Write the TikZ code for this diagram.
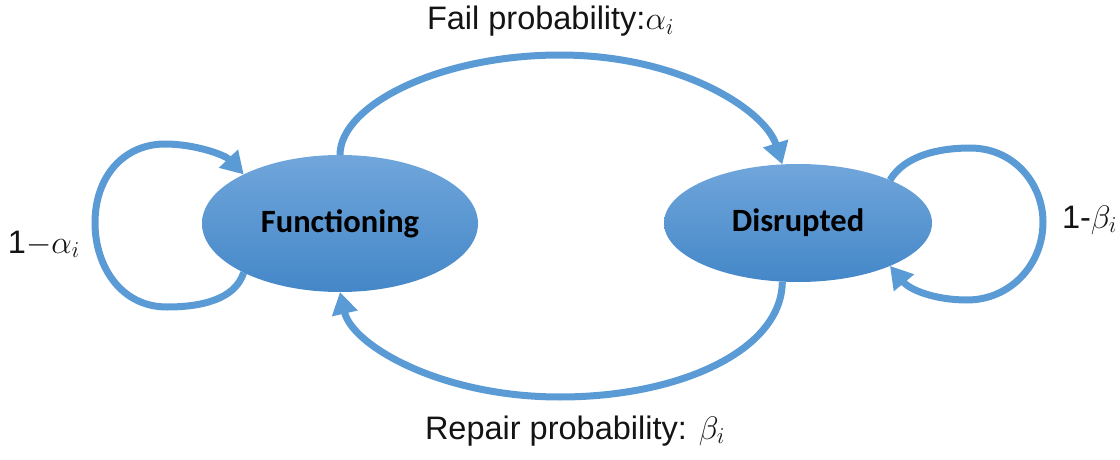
\RequirePackage{fix-cm}
\documentclass[tikz,border=0pt]{standalone}
\usepackage{fontspec}
\setmainfont{Liberation Sans}
\newfontfamily\nodefont{Carlito}
\usetikzlibrary{shapes.geometric,arrows.meta}
\definecolor{arrowblue}{RGB}{91,155,213}
\definecolor{elltop}{RGB}{112,166,219}
\definecolor{ellbot}{RGB}{68,135,200}
\definecolor{txt}{RGB}{20,20,20}
\tikzset{
  statenode/.style={ellipse, inner sep=0pt, outer sep=0pt, top color=elltop, bottom color=ellbot, draw=none,
    font=\nodefont\bfseries\fontsize{32.5}{38}\selectfont, text=black},
  conn/.style={draw=arrowblue, line width=7pt, -{Triangle[length=22pt,width=25pt]}},
  lbl/.style={inner sep=0pt, outer sep=0pt, anchor=base west, text=txt, font=\fontsize{32.5}{38}\selectfont}
}
\begin{document}
\begin{tikzpicture}[x=1pt,y=-1pt]
\useasboundingbox (0,0) rectangle (1120,460);
\node[statenode, minimum width=276pt, minimum height=137pt] (F) at (340,223.5) {Functioning};
\node[statenode, minimum width=268pt, minimum height=118pt] (D) at (798,223) {Disrupted};
% fail
\draw[conn] (F.north) .. controls (340,105) and (440,55) .. (560,55) .. controls (680,55) and (765,110) .. (D.105);
% repair
\draw[conn] (D.255) .. controls (782,350) and (680,397) .. (560,397) .. controls (440,397) and (352,345) .. (F.south);
% left loop
\draw[conn] (F.207) .. controls (235,300) and (200,307) .. (167,307) .. controls (120,307) and (95,265) .. (95,223) .. controls (95,175) and (125,144) .. (165,144) .. controls (195,144) and (225,155) .. (F.153);
% right loop
\draw[conn] (D.25) .. controls (905,155) and (940,148) .. (970,148) .. controls (1015,148) and (1043,185) .. (1043,222) .. controls (1043,265) and (1010,300) .. (967,300) .. controls (935,300) and (910,290) .. (D.-25);
% labels
\node[lbl] (lf) at (427,30) {Fail probability:$\alpha_i$};
\node[lbl] (lr) at (425,439) {Repair probability: $\beta_i$};
\node[lbl] (ll) at (8,253) {1$-\alpha_i$};
\node[lbl] (lrt) at (1062,228) {1-$\beta_i$};
\end{tikzpicture}
\end{document}
